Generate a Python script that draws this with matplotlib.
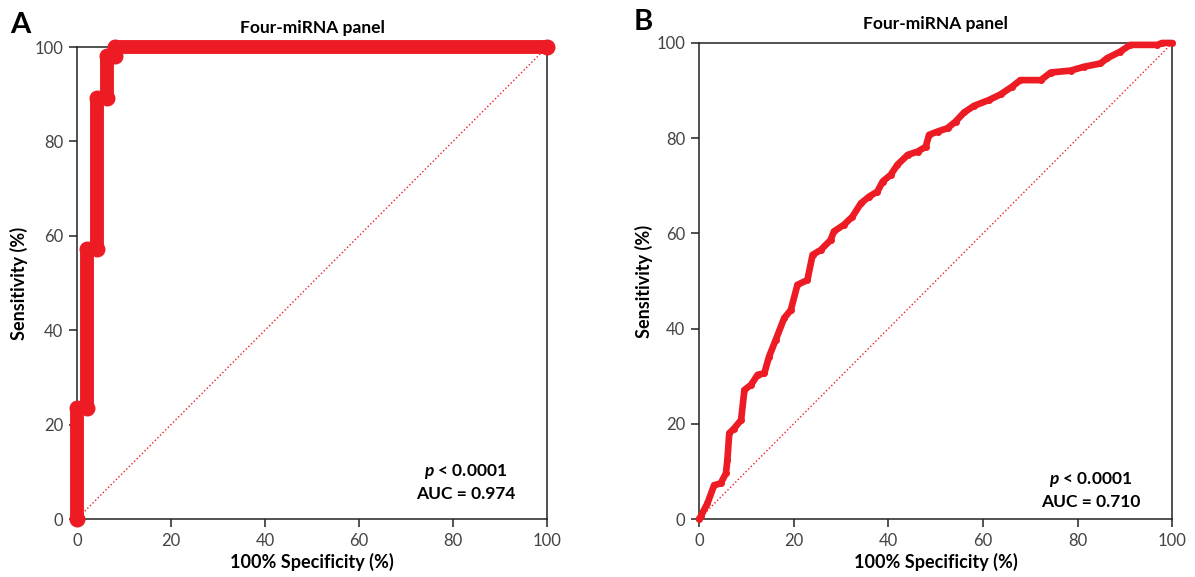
import matplotlib
matplotlib.use("Agg")
import matplotlib.pyplot as plt

plt.rcParams['font.family'] = ['Lato', 'DejaVu Sans']
plt.rcParams['mathtext.fontset'] = 'custom'
plt.rcParams['mathtext.it'] = 'Lato:italic:bold'
plt.rcParams['mathtext.rm'] = 'Lato:bold'

red = '#ed1c24'

# panel A: ROC vertices (100% - specificity, sensitivity)
fpr_a = [0, 0, 2.2, 2.2, 4.2, 4.2, 6.3, 6.3, 8.1, 8.1, 100]
sens_a = [0, 23.5, 23.5, 57.3, 57.3, 89.3, 89.3, 98.2, 98.2, 100, 100]
auc_a = '0.974'

# panel B: ROC traced points
fpr_b = [0, 0.4, 1.8, 3.2, 4.6, 5.7, 6.0, 6.4, 7.4, 8.9, 9.6, 11.0, 12.4, 13.8,
         14.8, 16.2, 18.0, 19.4, 20.8, 22.9, 24.0, 25.7, 27.8, 28.5, 30.6, 32.4,
         34.2, 35.9, 37.7, 38.8, 40.5, 41.9, 44.1, 46.2, 47.9, 48.6, 50.4, 52.5,
         54.2, 56.0, 58.1, 61.2, 63.7, 66.1, 67.9, 72.2, 74.3, 78.5, 81.3, 84.8,
         86.2, 89.0, 91.1, 96.8, 97.8, 100]
sens_b = [0, 0.6, 3.3, 7.1, 7.5, 9.6, 12.4, 18.0, 19.0, 20.8, 27.1, 28.2, 30.3, 30.6,
          34.1, 37.6, 42.2, 43.9, 49.2, 50.2, 55.5, 56.5, 58.6, 60.4, 61.8, 63.5,
          66.3, 67.7, 68.8, 70.9, 72.3, 74.4, 76.5, 77.2, 78.2, 80.7, 81.4, 82.1,
          83.5, 85.4, 86.8, 88.0, 89.2, 90.8, 92.2, 92.2, 93.8, 94.2, 95.0, 95.7,
          96.8, 98.2, 99.6, 99.6, 100, 100]
auc_b = '0.710'

ticks = [0, 20, 40, 60, 80, 100]

fig = plt.figure(figsize=(11.95, 5.77), dpi=100)
ax_a = fig.add_axes([0.0644, 0.1005, 0.3933, 0.818])
ax_b = fig.add_axes([0.5849, 0.1005, 0.3962, 0.825])


def style(ax, ylab_x):
    ax.set_xlim(0, 100)
    ax.set_ylim(0, 100)
    ax.set_xticks(ticks)
    ax.set_yticks(ticks)
    for s in ax.spines.values():
        s.set_linewidth(1.1)
        s.set_color('#222222')
    ax.tick_params(direction='out', length=6, width=1.1, pad=4,
                   labelsize=12, labelcolor='#444444', color='#222222')
    ax.plot([0, 100], [0, 100], color=red, lw=1.0, ls=':', zorder=1)
    ax.set_title('Four-miRNA panel', fontsize=12.5, fontweight='bold', pad=10)
    ax.set_xlabel('100% Specificity (%)', fontsize=13, fontweight='bold')
    ax.set_ylabel('Sensitivity (%)', fontsize=13, fontweight='bold')
    ax.xaxis.set_label_coords(0.5, -0.072)
    ax.yaxis.set_label_coords(ylab_x, 0.5)


style(ax_a, -0.105)
style(ax_b, -0.097)

ax_a.plot(fpr_a, sens_a, color=red, lw=10, marker='o', ms=10.5,
          solid_capstyle='round', solid_joinstyle='round', clip_on=False, zorder=3)
ax_b.plot(fpr_b, sens_b, color=red, lw=4.8, marker='o', ms=4,
          solid_capstyle='round', solid_joinstyle='round', clip_on=False, zorder=3)

ax_a.text(82.8, 10.0, r'$p$ < 0.0001', ha='center', va='center',
          fontsize=12.5, fontweight='bold')
ax_a.text(82.8, 5.4, 'AUC = ' + auc_a, ha='center', va='center',
          fontsize=12.5, fontweight='bold')
ax_b.text(82.7, 8.2, r'$p$ < 0.0001', ha='center', va='center',
          fontsize=12.5, fontweight='bold')
ax_b.text(82.7, 3.6, 'AUC = ' + auc_b, ha='center', va='center',
          fontsize=12.5, fontweight='bold')

fig.text(20 / 1195, 1 - 25 / 577, 'A', fontsize=21, fontweight='bold',
         ha='center', va='center')
fig.text(643 / 1195, 1 - 22 / 577, 'B', fontsize=21, fontweight='bold',
         ha='center', va='center')

fig.savefig('out.png', dpi=100)
